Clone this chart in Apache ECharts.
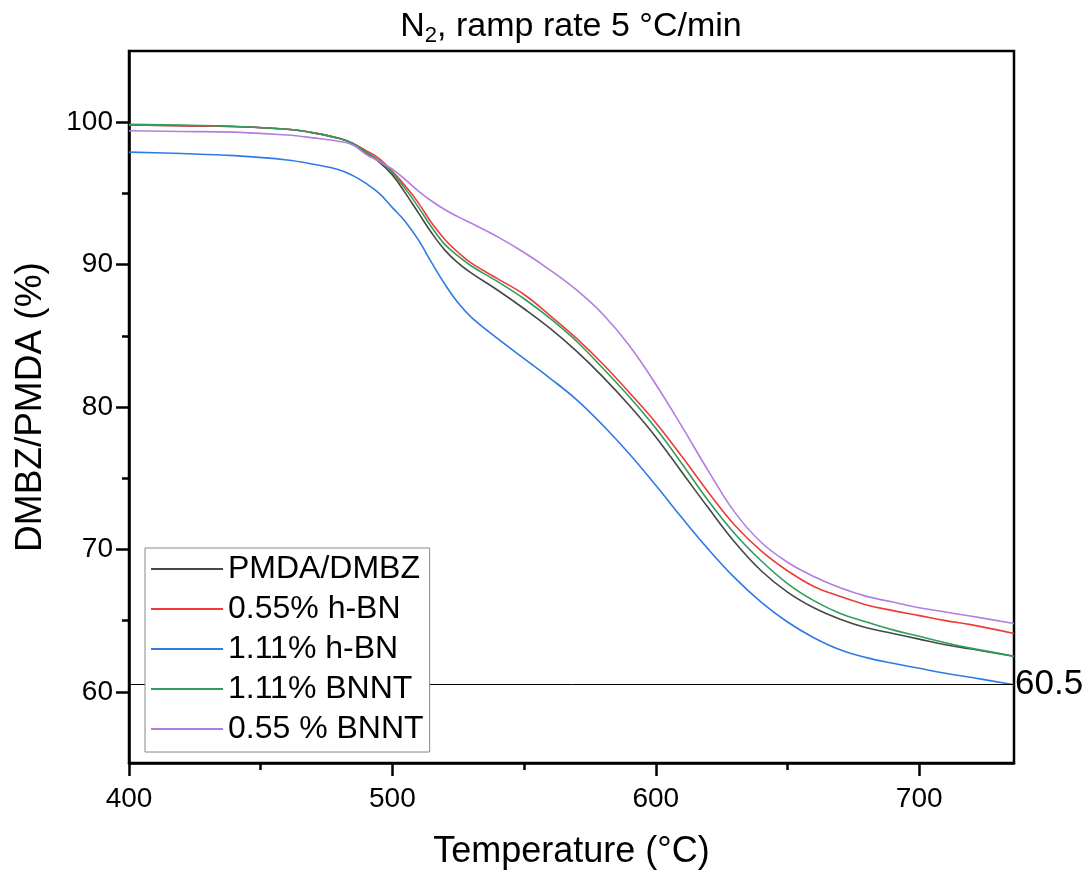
<!DOCTYPE html>
<html>
<head>
<meta charset="utf-8">
<script src="https://cdn.jsdelivr.net/npm/echarts@6/dist/echarts.min.js"></script>
<style>
  html, body { margin: 0; padding: 0; background: #fff; }
  #main { width: 1092px; height: 878px; }
</style>
</head>
<body>
<div id="main"></div>
<script>
// temperatures (°C)
var temps = [400, 420, 440, 460, 470, 480, 485, 490, 495, 500, 505, 510, 515, 520, 525, 530, 540, 550, 560, 570,
             580, 590, 600, 610, 620, 630, 640, 650, 660, 670, 680, 690, 700, 710, 720, 736];

// mass retention (%)
var pmdaDmbz = [99.8, 99.75, 99.7, 99.5, 99.25, 98.85, 98.5, 97.85, 97.2, 96.3, 95.0, 93.6, 92.2, 91.0, 90.1, 89.4, 88.2, 86.9, 85.5, 83.9,
                82.1, 80.1, 77.9, 75.4, 72.9, 70.5, 68.5, 67.0, 65.9, 65.1, 64.5, 64.1, 63.7, 63.3, 63.0, 62.5];
var hbn055 = [99.8, 99.75, 99.7, 99.5, 99.25, 98.85, 98.5, 98.0, 97.45, 96.55, 95.5, 94.3, 92.9, 91.75, 90.85, 90.1, 89.0, 87.9, 86.4, 84.8,
              83.0, 81.0, 78.9, 76.5, 74.0, 71.7, 69.9, 68.5, 67.4, 66.7, 66.1, 65.7, 65.35, 65.0, 64.7, 64.1];
var hbn111 = [97.9, 97.8, 97.65, 97.35, 97.05, 96.65, 96.25, 95.7, 95.0, 94.0, 93.0, 91.7, 90.1, 88.6, 87.3, 86.3, 84.8, 83.4, 82.0, 80.5,
              78.7, 76.7, 74.5, 72.2, 70.0, 68.0, 66.3, 64.9, 63.8, 62.95, 62.4, 62.0, 61.65, 61.3, 61.0, 60.5];
var bnnt111 = [99.85, 99.8, 99.7, 99.5, 99.25, 98.85, 98.5, 97.9, 97.3, 96.45, 95.3, 94.0, 92.6, 91.4, 90.6, 89.9, 88.8, 87.6, 86.2, 84.6,
               82.7, 80.7, 78.5, 76.0, 73.4, 71.1, 69.2, 67.6, 66.4, 65.5, 64.9, 64.35, 63.9, 63.45, 63.05, 62.5];
var bnnt055 = [99.4, 99.35, 99.3, 99.1, 98.9, 98.65, 98.4, 97.75, 97.25, 96.7, 95.95, 95.15, 94.45, 93.85, 93.35, 92.9, 91.95, 90.85, 89.6, 88.2,
               86.5, 84.3, 81.6, 78.6, 75.5, 72.6, 70.5, 69.1, 68.1, 67.3, 66.7, 66.3, 65.9, 65.6, 65.3, 64.8];

var seriesNames = ['PMDA/DMBZ', '0.55% h-BN', '1.11% h-BN', '1.11% BNNT', '0.55 % BNNT'];
var seriesColors = ['#474747', '#f03a3a', '#2f7be6', '#2f9e5c', '#b27ee3'];
var seriesValues = [pmdaDmbz, hbn055, hbn111, bnnt111, bnnt055];

var xMajor = [400, 500, 600, 700];
var xMinor = [450, 550, 650];
var yMajor = [60, 70, 80, 90, 100];
var yMinor = [65, 75, 85, 95];
var refValue = 60.5;

var font = 'Liberation Sans, Arial, sans-serif';

function pairs(vals) {
	var out = [];
	for (var i = 0; i < temps.length; i++) {
		out.push([temps[i], vals[i]]);
	}
	return out;
}

var series = [];
for (var i = 0; i < seriesNames.length; i++) {
	var s = {
		name: seriesNames[i],
		type: 'line',
		data: pairs(seriesValues[i]),
		symbol: 'none',
		smooth: 0.4,
		lineStyle: { color: seriesColors[i], width: 1.6 },
		itemStyle: { color: seriesColors[i] },
		z: 3
	};
	if (i === 0) {
		// horizontal reference line at the final residue of 1.11% h-BN
		s.markLine = {
			silent: true,
			symbol: ['none', 'none'],
			lineStyle: { color: '#000', width: 1, type: 'solid' },
			label: {
				position: 'end',
				formatter: '60.5',
				fontSize: 35,
				fontFamily: font,
				color: '#000',
				distance: 1
			},
			data: [{ yAxis: refValue }]
		};
	}
	series.push(s);
}

var myChart = echarts.init(document.getElementById('main'));

var option = {
	backgroundColor: '#fff',
	animation: false,
	title: {
		text: '{a|N}{sub|2}{a|, ramp rate 5 °C/min}',
		left: 566,
		top: 2,
		textAlign: 'center',
		textStyle: {
			rich: {
				a: { fontSize: 34, fontFamily: font, fontWeight: 'normal', color: '#000', lineHeight: 40 },
				sub: { fontSize: 22, fontFamily: font, fontWeight: 'normal', color: '#000', lineHeight: 22, verticalAlign: 'bottom' }
			}
		}
	},
	grid: {
		left: 129,
		right: 78,
		top: 51,
		bottom: 115,
		show: true,
		borderColor: '#000',
		borderWidth: 2.5,
		containLabel: false
	},
	legend: {
		orient: 'vertical',
		left: 145,
		top: 548,
		z: 10,
		itemWidth: 72,
		itemHeight: 14,
		itemGap: 8,
		itemTextGap: 10,
		itemStyle: { opacity: 0 },
		padding: [5, 6, 7, 5],
		borderColor: '#888',
		borderWidth: 1,
		backgroundColor: '#fff',
		textStyle: { fontSize: 32, fontFamily: font, color: '#000', lineHeight: 32 },
		data: seriesNames
	},
	xAxis: [{
		type: 'value',
		min: 400,
		max: 736,
		name: 'Temperature (°C)',
		nameLocation: 'middle',
		nameGap: 71,
		nameTextStyle: { fontSize: 36, fontFamily: font, color: '#000' },
		axisLine: { show: true, lineStyle: { color: '#000', width: 2.5 } },
		axisTick: { show: true, length: 13, customValues: xMajor, lineStyle: { color: '#000', width: 2.5 } },
		axisLabel: { customValues: xMajor, fontSize: 28, fontFamily: font, color: '#000', margin: 22 },
		splitLine: { show: false }
	}, {
		type: 'value',
		min: 400,
		max: 736,
		position: 'bottom',
		axisLine: { show: false },
		axisTick: { show: true, length: 7, customValues: xMinor, lineStyle: { color: '#000', width: 2.5 } },
		axisLabel: { show: false },
		splitLine: { show: false }
	}],
	yAxis: [{
		type: 'value',
		min: 55,
		max: 105,
		name: 'DMBZ/PMDA (%)',
		nameLocation: 'middle',
		nameGap: 80,
		nameTextStyle: { fontSize: 37, fontFamily: font, color: '#000' },
		axisLine: { show: true, lineStyle: { color: '#000', width: 2.5 } },
		axisTick: { show: true, length: 13, customValues: yMajor, lineStyle: { color: '#000', width: 2.5 } },
		axisLabel: { customValues: yMajor, fontSize: 28, fontFamily: font, color: '#000', margin: 16 },
		splitLine: { show: false }
	}, {
		type: 'value',
		min: 55,
		max: 105,
		position: 'left',
		axisLine: { show: false },
		axisTick: { show: true, length: 7, customValues: yMinor, lineStyle: { color: '#000', width: 2.5 } },
		axisLabel: { show: false },
		splitLine: { show: false }
	}],
	series: series
};

myChart.setOption(option);
</script>
</body>
</html>
